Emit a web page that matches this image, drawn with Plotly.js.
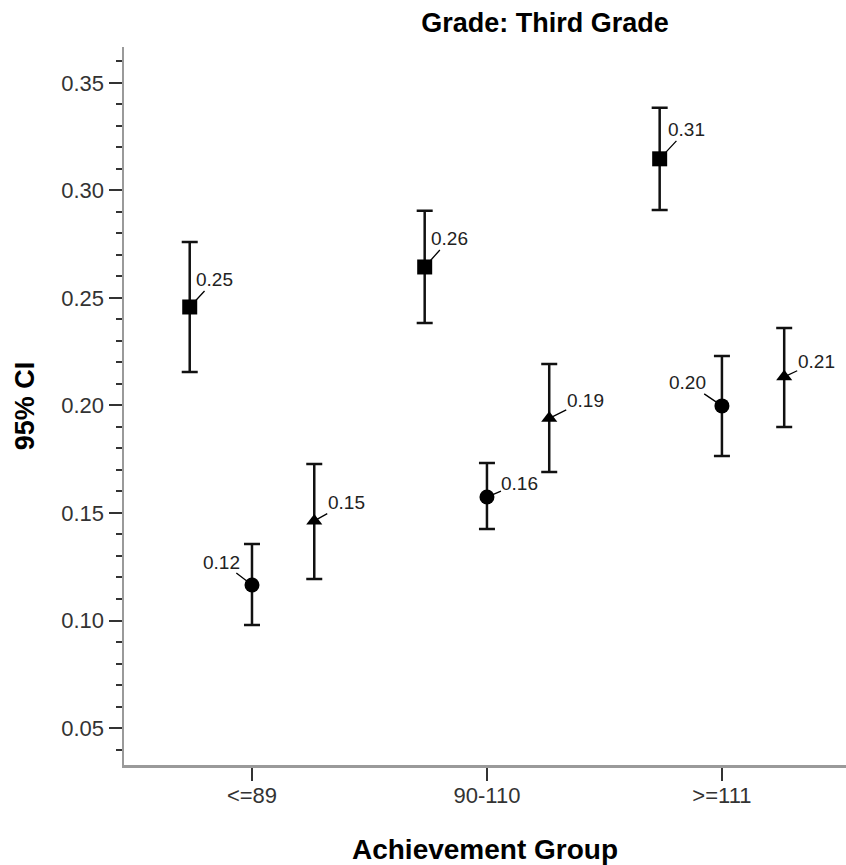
<!DOCTYPE html>
<html>
<head>
<meta charset="utf-8">
<script src="https://cdn.plot.ly/plotly-3.0.1.min.js"></script>
<style>html,body{margin:0;padding:0;background:#fff;}#chart{width:846px;height:865px;}</style>
</head>
<body>
<div id="chart"></div>
<script>
// Categories (x axis)
var categories = ["<=89", "90-110", ">=111"];

// Series 1 (squares): means and 95% CI bounds
var squareMean  = [0.2458, 0.2644, 0.3147];
var squareUpper = [0.2760, 0.2905, 0.3384];
var squareLower = [0.2156, 0.2384, 0.2909];

// Series 2 (circles)
var circleMean  = [0.1165, 0.1574, 0.1998];
var circleUpper = [0.1356, 0.1733, 0.2230];
var circleLower = [0.0979, 0.1426, 0.1765];

// Series 3 (triangles)
var triMean  = [0.1463, 0.1940, 0.2133];
var triUpper = [0.1728, 0.2193, 0.2360];
var triLower = [0.1193, 0.1691, 0.1900];

var FONT = "Liberation Sans, Arial, sans-serif";
var catIdx = categories.map(function(c, i){ return i; });

function makeTrace(name, offset, mean, upper, lower, symbol, size) {
  return {
    type: "scatter", mode: "markers", name: name,
    x: catIdx.map(function(i){ return i + offset; }),
    y: mean,
    marker: {symbol: symbol, size: size, color: "#000"},
    error_y: {
      type: "data", symmetric: false,
      array: upper.map(function(u, i){ return u - mean[i]; }),
      arrayminus: lower.map(function(l, i){ return mean[i] - l; }),
      color: "#111", thickness: 2.5, width: 8
    },
    showlegend: false, hoverinfo: "y"
  };
}

var traces = [
  makeTrace("Squares", -0.265, squareMean, squareUpper, squareLower, "square", 15),
  makeTrace("Circles", 0, circleMean, circleUpper, circleLower, "circle", 15),
  makeTrace("Triangles", 0.265, triMean, triUpper, triLower, "triangle-up", 14)
];

// label offsets (pixels) for each series
var labelSpecs = [
  {offset: -0.265, mean: squareMean, ax: [25, 25, 27], ay: [-27, -28, -29]},
  {offset: 0, mean: circleMean, ax: [-30, 33, -34], ay: [-23, -14, -23]},
  {offset: 0.265, mean: triMean, ax: [32, 36, 32], ay: [-18, -18, -15]}
];

var annotations = [];
labelSpecs.forEach(function(s){
  s.mean.forEach(function(v, i){
    annotations.push({
      x: i + s.offset, y: v, xref: "x", yref: "y",
      text: v.toFixed(2),
      showarrow: true, arrowhead: 0, arrowwidth: 1.3, arrowcolor: "#000",
      ax: s.ax[i], ay: s.ay[i], standoff: 0, borderpad: 0,
      font: {family: FONT, size: 19, color: "#222"}
    });
  });
});

var layout = {
  width: 846, height: 865,
  margin: {l: 124, r: 0, t: 47, b: 100, pad: 0},
  paper_bgcolor: "#fff", plot_bgcolor: "#fff",
  font: {family: FONT, color: "#333"},
  title: {
    text: "<b>Grade: Third Grade</b>",
    font: {family: FONT, size: 27, color: "#000"},
    x: 545/846, xanchor: "center", xref: "container",
    y: 1 - 23/865, yanchor: "middle", yref: "container"
  },
  xaxis: {
    range: [-0.5447, 2.528],
    tickmode: "array", tickvals: catIdx, ticktext: categories,
    ticks: "outside", ticklen: 13, tickwidth: 2, tickcolor: "#333",
    ticklabelstandoff: -4,
    showline: true, linecolor: "#9a9a9a", linewidth: 2.5,
    showgrid: false, zeroline: false,
    tickfont: {family: FONT, size: 22, color: "#333"},
    title: {text: "<b>Achievement Group</b>", font: {family: FONT, size: 28, color: "#000"}, standoff: 33}
  },
  yaxis: {
    range: [0.0328, 0.3667],
    tickmode: "linear", tick0: 0, dtick: 0.05, tickformat: ".2f",
    ticks: "outside", ticklen: 13, tickwidth: 2, tickcolor: "#333",
    minor: {dtick: 0.01, tick0: 0, ticks: "outside", ticklen: 6, tickwidth: 2, tickcolor: "#333", showgrid: false},
    showline: true, linecolor: "#9a9a9a", linewidth: 2.5,
    showgrid: false, zeroline: false,
    tickfont: {family: FONT, size: 22, color: "#333"},
    title: {text: "<b>95% CI</b>", font: {family: FONT, size: 27, color: "#000"}, standoff: 19}
  },
  annotations: annotations
};

Plotly.newPlot("chart", traces, layout, {displayModeBar: false, staticPlot: true});
</script>
</body>
</html>
